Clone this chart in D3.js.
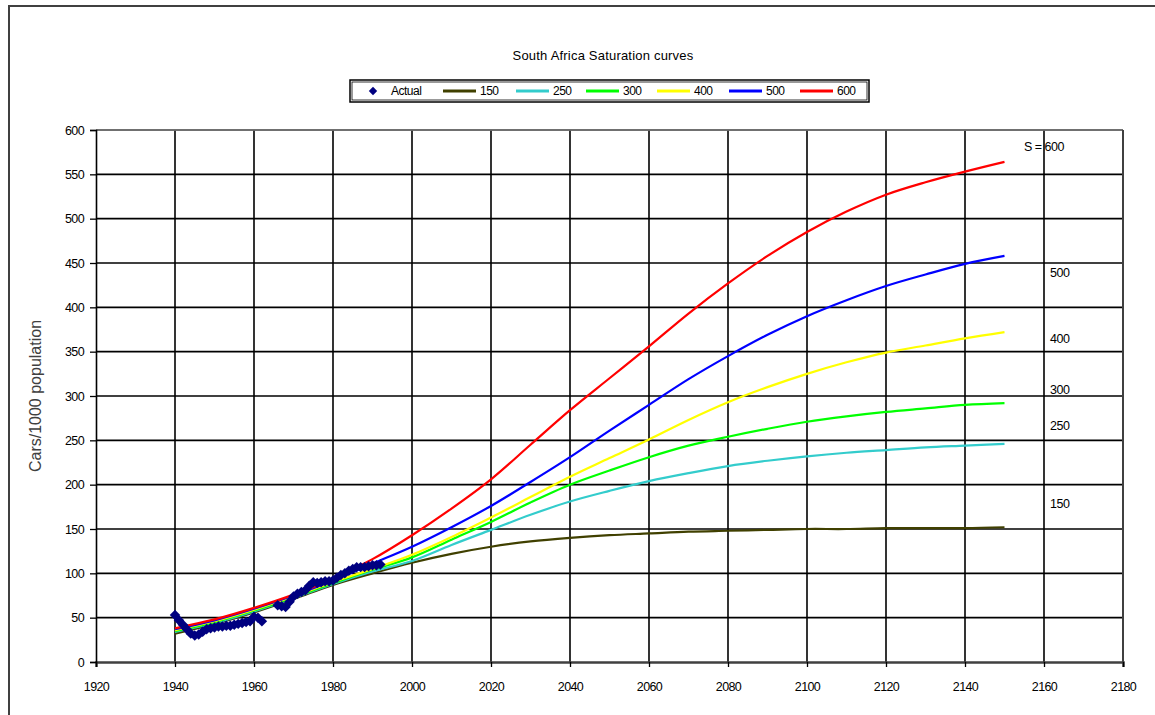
<!DOCTYPE html>
<html>
<head>
<meta charset="utf-8">
<script src="https://cdn.jsdelivr.net/npm/d3@7"></script>
<style>
  html, body { margin: 0; padding: 0; background: #fff; }
  svg { display: block; }
  text { font-family: "Liberation Sans", Arial, sans-serif; }
</style>
</head>
<body>
<svg id="chart" width="1155" height="715"></svg>
<script>
// ---------- data ----------
const title = "South Africa Saturation curves";
const yTitle = "Cars/1000 population";
const xTicks = [1920,1940,1960,1980,2000,2020,2040,2060,2080,2100,2120,2140,2160,2180];
const yTicks = [0,50,100,150,200,250,300,350,400,450,500,550,600];

const curveYears = [1940,1950,1960,1970,1980,1990,2000,2010,2020,2030,2040,2050,2060,2070,2080,2090,2100,2110,2120,2130,2140,2150];
const s150 = [32,43,56,71,87,100,112,122,130,136,140,143,145,147,148,149,150,150,151,151,151,152];
const s250 = [34,44,57,72,88,102,114,132,149,166,181,193,204,213,221,227,232,236,239,242,244,246];
const s300 = [35,45,58,73,89,104,118,138,158,180,200,216,231,244,254,263,271,277,282,286,290,292];
const s400 = [36,46,59,74,90,105,121,141,163,186,209,230,251,273,293,310,325,338,349,357,365,372];
const s500 = [37,47,60,75,92,111,130,152,176,203,231,261,290,319,345,369,390,408,424,437,449,458];
const s600 = [38,48,61,76,94,116,143,173,206,245,284,320,356,393,427,458,485,508,527,541,553,564];

const actualYears = [1940,1941,1942,1943,1944,1945,1946,1947,1948,1949,1950,1951,1952,1953,1954,1955,1956,1957,1958,1959,1960,1961,1962,
                     1966,1967,1968,1969,1970,1971,1972,1973,1974,1975,1976,1977,1978,1979,1980,1981,1982,1983,1984,1985,1986,1987,1988,1989,1990,1991,1992];
const actualValues = [53,47,42,37,32,30,31,34,37,38,39,40,40,41,41,42,43,44,45,46,51,50,46,
                      64,63,62,68,74,77,79,81,86,90,89,90,91,91,92,95,98,100,103,105,107,107,107,108,109,109,110];

const seriesNames = ["150","250","300","400","500","600"];
const seriesColors = ["#404000","#33cccc","#00ff00","#ffff00","#0000ff","#ff0000"];
const seriesValues = [s150,s250,s300,s400,s500,s600];

const endLabels = ["150","250","300","400","500","S = 600"];
const endLabelValues = [179, 267, 307, 365, 439, 581];

// ---------- layout ----------
const svg = d3.select("#chart");
const W = 1155, H = 715;
const plot = {left: 96, right: 1123, top: 130, bottom: 662};

// outer frame
svg.append("rect").attr("x", 9).attr("y", 6).attr("width", W + 10).attr("height", H + 10)
  .attr("fill", "#fff").attr("stroke", "#404040").attr("stroke-width", 2);

const x = d3.scaleLinear().domain([1920, 2180]).range([plot.left, plot.right]);
const y = d3.scaleLinear().domain([0, 600]).range([plot.bottom, plot.top]);

// gridlines
const grid = svg.append("g");
grid.selectAll("line.h").data(yTicks.filter(d => d > 0)).join("line")
  .attr("x1", plot.left).attr("x2", plot.right)
  .attr("y1", d => y(d)).attr("y2", d => y(d))
  .attr("stroke", "#000").attr("stroke-width", 1.6);
grid.selectAll("line.v").data(xTicks.filter(d => d > 1920)).join("line")
  .attr("x1", d => x(d)).attr("x2", d => x(d))
  .attr("y1", plot.top).attr("y2", plot.bottom)
  .attr("stroke", "#000").attr("stroke-width", 1.6);
svg.append("line").attr("x1", plot.left).attr("x2", plot.right).attr("y1", plot.top).attr("y2", plot.top)
  .attr("stroke", "#808080").attr("stroke-width", 1.5);
svg.append("line").attr("x1", plot.right).attr("x2", plot.right).attr("y1", plot.top).attr("y2", plot.bottom)
  .attr("stroke", "#404040").attr("stroke-width", 2);

// axes
const xAxis = d3.axisBottom(x).tickValues(xTicks).tickFormat(d3.format("d")).tickSize(5).tickPadding(15);
const gx = svg.append("g").attr("transform", `translate(0,${plot.bottom})`).call(xAxis);
gx.select(".domain").attr("stroke", "#404040").attr("stroke-width", 2.5);
gx.selectAll(".tick line").attr("stroke", "#000").attr("stroke-width", 1.3);
gx.selectAll(".tick text").attr("font-size", 12.5).attr("fill", "#000").style("letter-spacing", "-0.6px");

const yAxis = d3.axisLeft(y).tickValues(yTicks).tickSize(6).tickPadding(6);
const gy = svg.append("g").attr("transform", `translate(${plot.left},0)`).call(yAxis);
gy.select(".domain").attr("stroke", "#000").attr("stroke-width", 1.6);
gy.selectAll(".tick line").attr("stroke", "#000").attr("stroke-width", 1.3);
gy.selectAll(".tick text").attr("font-size", 12.5).attr("fill", "#000").style("letter-spacing", "-0.6px");

// curves
const line = d3.line().x(d => x(d[0])).y(d => y(d[1])).curve(d3.curveCatmullRom.alpha(0.5));
seriesValues.forEach((vals, i) => {
  svg.append("path")
    .datum(curveYears.map((yr, j) => [yr, vals[j]]))
    .attr("d", line)
    .attr("fill", "none")
    .attr("stroke", seriesColors[i])
    .attr("stroke-width", 2.2);
});

// actual
const diamond = d3.symbol().type(d3.symbolDiamond2).size(70);
svg.append("g").selectAll("path").data(actualYears.map((yr, i) => [yr, actualValues[i]])).join("path")
  .attr("d", diamond)
  .attr("transform", d => `translate(${x(d[0])},${y(d[1])})`)
  .attr("fill", "#000080");

// end labels
const endG = svg.append("g");
endLabels.forEach((lbl, i) => {
  endG.append("text")
    .attr("x", lbl === "S = 600" ? 1024 : 1050)
    .attr("y", y(endLabelValues[i]))
    .attr("dy", "0.35em")
    .attr("font-size", 12.5)
    .attr("fill", "#000")
    .style("letter-spacing", "-0.5px")
    .text(lbl);
});

// title
svg.append("text").attr("x", 603).attr("y", 55).attr("dy", "0.35em")
  .attr("text-anchor", "middle").attr("font-size", 13).attr("fill", "#000")
  .style("letter-spacing", "0.2px").text(title);

// y axis title
svg.append("text")
  .attr("transform", `translate(35,${(plot.top + plot.bottom) / 2}) rotate(-90)`)
  .attr("text-anchor", "middle").attr("dy", "0.35em")
  .attr("font-size", 16).attr("fill", "#404040").text(yTitle);

// legend
const leg = svg.append("g");
leg.append("rect").attr("x", 350).attr("y", 80).attr("width", 519).attr("height", 22)
  .attr("fill", "#fff").attr("stroke", "#000").attr("stroke-width", 1.5);
leg.append("rect").attr("x", 352).attr("y", 82).attr("width", 515).attr("height", 18)
  .attr("fill", "none").attr("stroke", "#000").attr("stroke-width", 0.8);
leg.append("path").attr("d", d3.symbol().type(d3.symbolDiamond2).size(45))
  .attr("transform", "translate(373,91)").attr("fill", "#000080");
leg.append("text").attr("x", 391).attr("y", 91).attr("dy", "0.35em").attr("font-size", 12)
  .style("letter-spacing", "-0.5px").text("Actual");
const legStarts = [443, 516, 586, 657, 729, 800];
seriesNames.forEach((n, i) => {
  const sx = legStarts[i];
  leg.append("line").attr("x1", sx).attr("x2", sx + 33).attr("y1", 91).attr("y2", 91)
    .attr("stroke", seriesColors[i]).attr("stroke-width", 3);
  leg.append("text").attr("x", sx + 37).attr("y", 91).attr("dy", "0.35em").attr("font-size", 12)
    .style("letter-spacing", "-0.5px").text(n);
});
</script>
</body>
</html>
